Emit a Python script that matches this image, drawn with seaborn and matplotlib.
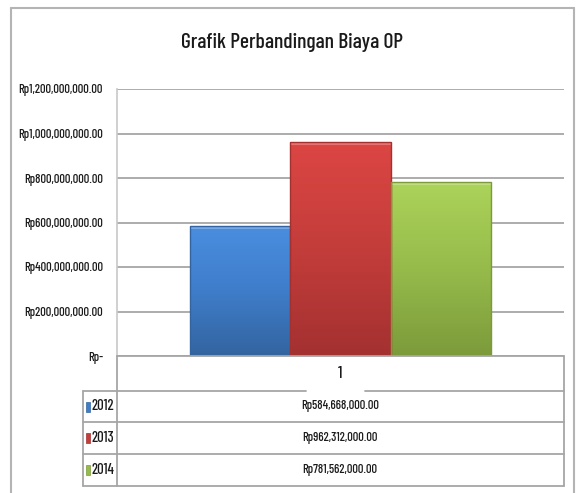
import numpy as np
import pandas as pd
import matplotlib
matplotlib.use("Agg")
import matplotlib.pyplot as plt
import seaborn as sns
from matplotlib.lines import Line2D
from matplotlib.patches import Rectangle
from matplotlib.colors import LinearSegmentedColormap

# data
categories = ["1"]
years = ["2012", "2013", "2014"]
biaya = [584668000, 962312000, 781562000]
y_ticks = [0, 200000000, 400000000, 600000000, 800000000, 1000000000, 1200000000]

title = "Grafik Perbandingan Biaya OP"

# colours (top, bottom) of each bar gradient
bar_top = ["#4a8ee0", "#dc4643", "#acd35a"]
bar_bottom = ["#33649f", "#a33130", "#7c9a3b"]
bar_main = ["#3f7dca", "#c33d3b", "#96bb4b"]

sns.set_theme(style="white")
plt.rcParams["font.family"] = ["Barlow Condensed", "DejaVu Sans"]
plt.rcParams["font.weight"] = 500
plt.rcParams["text.color"] = "#1a1a1a"

W, H = 577, 493
fig = plt.figure(figsize=(W / 100, H / 100), dpi=100)


def fx(x):
    return x / W


def fy(y):
    return 1 - y / H


# plot area in pixel coordinates
L, R, T, B = 117, 564, 89, 356
ax = fig.add_axes([fx(L), fy(B), fx(R) - fx(L), fy(T) - fy(B)])

df = pd.DataFrame({
    "kategori": categories * len(years),
    "tahun": years,
    "biaya": biaya,
})

sns.barplot(data=df, x="kategori", y="biaya", hue="tahun", palette=bar_main,
            width=0.675, ax=ax, legend=False, edgecolor="none", linewidth=0,
            zorder=3)

ax.set_ylim(0, 1.2e9)
ax.set_yticks(y_ticks)
ax.set_yticklabels(["Rp-" if v == 0 else f"Rp{v:,.2f}" for v in y_ticks],
                   fontsize=9, color="#1a1a1a")
ax.set_xticks([])
ax.set_xlabel("")
ax.set_ylabel("")
ax.tick_params(axis="y", length=0, pad=10)
ax.yaxis.grid(True, color="#a6a6a6", linewidth=1.3, zorder=0)
ax.xaxis.grid(False)
for s in ["top", "right", "bottom"]:
    ax.spines[s].set_visible(False)
ax.spines["left"].set_color("#c8c8c8")
ax.spines["left"].set_linewidth(1.2)

# gradient fill on every bar, with a light bevel on top
for i, patch in enumerate(ax.patches):
    x0, y0 = patch.get_x(), patch.get_y()
    w, h = patch.get_width(), patch.get_height()
    cmap = LinearSegmentedColormap.from_list("g", [bar_bottom[i], bar_main[i], bar_top[i]])
    grad = np.linspace(0, 1, 256).reshape(-1, 1)
    im = ax.imshow(grad, cmap=cmap, aspect="auto", origin="lower",
                   extent=[x0, x0 + w, y0, y0 + h], zorder=3.5)
    im.set_clip_path(patch)
    ax.add_patch(Rectangle((x0, y0 + h - 0.012e9), w, 0.012e9,
                           facecolor="white", alpha=0.25, edgecolor="none", zorder=4))
    ax.add_patch(Rectangle((x0, y0), w, h, facecolor="none",
                           edgecolor=bar_bottom[i], linewidth=1.0, zorder=5))
ax.set_xlim(-0.5, 0.5)
ax.set_aspect("auto")

# outer chart border (runs off the bottom)
border = "#b4b4b4"
for xs, ys in [((11, 574), (8, 8)), ((11, 11), (8, 493)), ((574, 574), (8, 493))]:
    fig.add_artist(Line2D([fx(xs[0]), fx(xs[1])], [fy(ys[0]), fy(ys[1])],
                          color=border, linewidth=1.5))

fig.text(fx(292), fy(43), title, ha="center", va="center", fontsize=15.5)

# data table under the axis
line_c = "#a6a6a6"
rows_y = [391, 422, 454, 486]
tab_lines = [
    ((L, R), (B, B)),
    ((R, R), (B, 486)),
    ((L, L), (B, 486)),
    ((83, 83), (391, 486)),
    ((83, 306), (391, 391)),
    ((365, R), (391, 391)),
    ((83, R), (422, 422)),
    ((83, R), (454, 454)),
    ((83, R), (486, 486)),
]
for xs, ys in tab_lines:
    fig.add_artist(Line2D([fx(xs[0]), fx(xs[1])], [fy(ys[0]), fy(ys[1])],
                          color=line_c, linewidth=1.3))

fig.text(fx(340), fy(373), categories[0], ha="center", va="center", fontsize=12)
for i, (yr, v) in enumerate(zip(years, biaya)):
    yc = (rows_y[i] + rows_y[i + 1]) / 2
    fig.text(fx(340), fy(yc), f"Rp{v:,.2f}", ha="center", va="center", fontsize=9)
    fig.text(fx(91), fy(yc), yr, ha="left", va="center", fontsize=10.5)
    fig.add_artist(Rectangle((fx(86), fy(yc + 5)), fx(4), 10 / H,
                             transform=fig.transFigure, facecolor=bar_main[i],
                             edgecolor=bar_bottom[i], linewidth=0.5))

fig.savefig("out.png", dpi=100)
